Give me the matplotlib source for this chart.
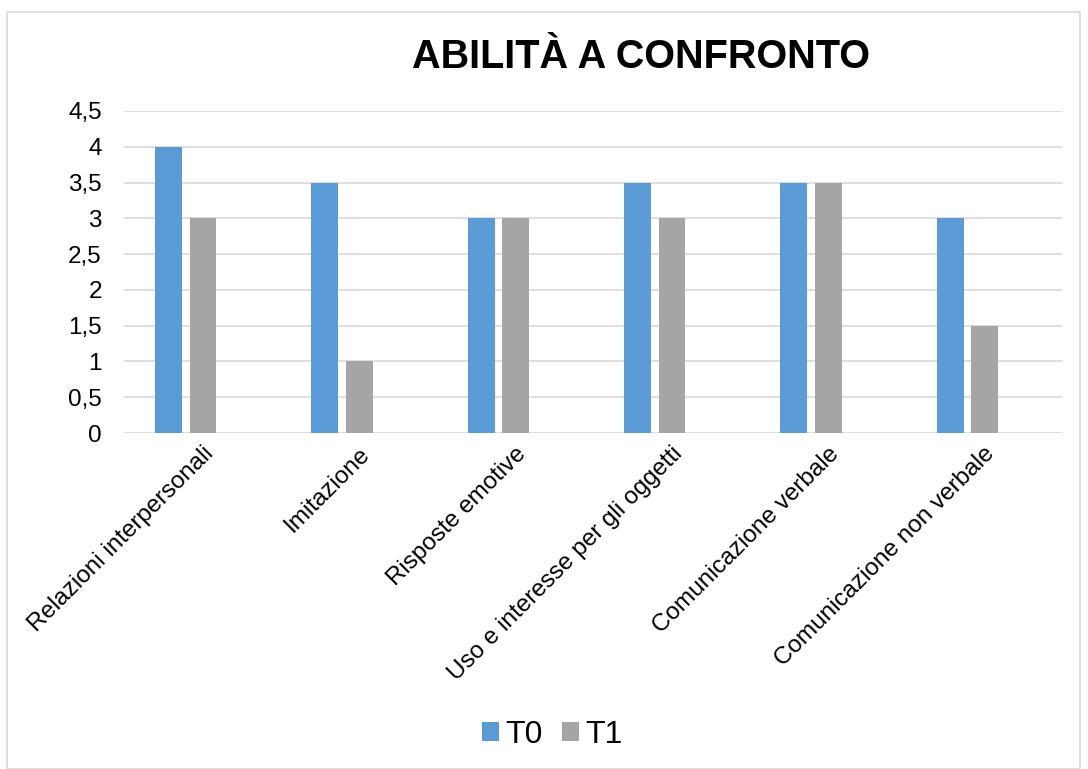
import numpy as np
import matplotlib.pyplot as plt
from matplotlib.patches import Rectangle

plt.rcParams['font.family'] = ['Liberation Sans', 'DejaVu Sans']

# categories and scores
abilita = ['Relazioni interpersonali', 'Imitazione', 'Risposte emotive',
           'Uso e interesse per gli oggetti', 'Comunicazione verbale',
           'Comunicazione non verbale']
t0 = [4, 3.5, 3, 3.5, 3.5, 3]
t1 = [3, 1, 3, 3, 3.5, 1.5]
yticks = [0, 0.5, 1, 1.5, 2, 2.5, 3, 3.5, 4, 4.5]

fig = plt.figure(figsize=(10.88, 7.69), dpi=100)
ax = fig.add_axes([124 / 1088, 1 - 433 / 769, (1062 - 124) / 1088, (433 - 111) / 769])

# outer chart border
fig.patches.append(Rectangle((7 / 1088, 0), 1073 / 1088, 1 - 12 / 769,
                             transform=fig.transFigure, fill=False,
                             edgecolor='#d9d9d9', linewidth=1.2))

x = np.arange(len(abilita))
w = 0.172
ax.bar(x - 0.215, t0, width=w, color='#5b9bd5', label='T0', zorder=3)
ax.bar(x + 0.005, t1, width=w, color='#a5a5a5', label='T1', zorder=3)

ax.set_xlim(-0.5, len(abilita) - 0.5)
ax.set_ylim(0, 4.5)
ax.set_yticks(yticks)
ax.set_yticklabels([str(v).replace('.', ',').replace(',0', '') for v in yticks], fontsize=17.5)
ax.grid(axis='y', color='#d9d9d9', linewidth=1.2, zorder=0)
for s in ax.spines.values():
    s.set_visible(False)
ax.tick_params(axis='y', length=0, pad=16)
ax.tick_params(axis='x', length=0, pad=7)

ax.set_xticks(x)
ax.set_xticklabels(abilita, rotation=45, ha='right', rotation_mode='anchor', fontsize=17.5)

fig.text(641 / 1088, 1 - 57 / 769, 'ABILITÀ A CONFRONTO', ha='center', va='center',
         fontsize=28.5, fontweight='bold')

fig.legend(loc='center', bbox_to_anchor=(552 / 1088, 1 - 735 / 769), ncol=2,
           frameon=False, fontsize=23, handlelength=0.53, handleheight=0.53,
           handletextpad=0.2, columnspacing=0.6)

fig.savefig('out.png', dpi=100)
